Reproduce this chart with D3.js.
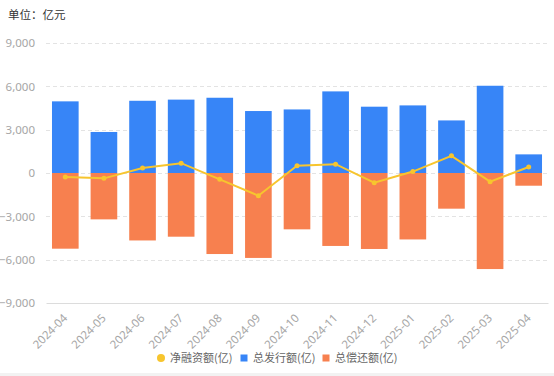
<!DOCTYPE html>
<html>
<head>
<meta charset="utf-8">
<script src="https://cdn.jsdelivr.net/npm/d3@7"></script>
<style>
  body { margin: 0; background: #fff; }
  svg { display: block; font-family: "Noto Sans CJK SC", "Noto Sans", sans-serif; }
</style>
</head>
<body>
<svg id="chart" width="554" height="376"></svg>
<script>
// data (亿元)
var months = ["2024-04","2024-05","2024-06","2024-07","2024-08","2024-09",
              "2024-10","2024-11","2024-12","2025-01","2025-02","2025-03","2025-04"];
var issued = [4960, 2840, 5000, 5080, 5210, 4290, 4400, 5650, 4590, 4680, 3640, 6040, 1290];
var repaid = [-5240, -3210, -4670, -4410, -5610, -5880, -3900, -5050, -5260, -4600, -2470, -6650, -880];
var net    = [-270, -370, 340, 680, -440, -1570, 510, 610, -672, 100, 1190, -602, 412];
var yTicks = [-9000, -6000, -3000, 0, 3000, 6000, 9000];

var legendNames = ["净融资额(亿)", "总发行额(亿)", "总偿还额(亿)"];
var colNet = "#f7c52e", colIssue = "#3785f7", colRepay = "#f7804f";

var svg = d3.select("#chart");
var margin = {top: 43, right: 6, bottom: 73, left: 46};
var W = 554, H = 376;

// light strip at the very bottom
svg.append("rect")
    .attr("x", 0).attr("y", 373).attr("width", W).attr("height", 3)
    .attr("fill", "#f2f2f2");

var x = d3.scaleBand()
    .domain(months)
    .range([margin.left, W - margin.right])
    .paddingInner(0.31)
    .paddingOuter(0.155);

var y = d3.scaleLinear()
    .domain([-9000, 9000])
    .range([H - margin.bottom, margin.top]);

// unit label
svg.append("text")
    .attr("x", 8).attr("y", 19)
    .attr("font-size", 11.5)
    .attr("fill", "#333")
    .text("单位：亿元");

// grid
svg.append("g").selectAll("line")
    .data(yTicks.filter(function(d) { return d !== -9000; }))
    .enter().append("line")
    .attr("x1", margin.left).attr("x2", W - margin.right)
    .attr("y1", function(d) { return Math.round(y(d)) + 0.5; })
    .attr("y2", function(d) { return Math.round(y(d)) + 0.5; })
    .attr("stroke", "#e3e3e3")
    .attr("stroke-dasharray", "4,3");

// y axis labels
var yAxis = svg.append("g")
    .attr("transform", "translate(" + (margin.left - 8) + ",0)")
    .call(d3.axisLeft(y).tickValues(yTicks).tickSize(0).tickFormat(d3.format(",")));
yAxis.select(".domain").remove();
yAxis.selectAll("text")
    .attr("fill", "#a6a6a6")
    .attr("font-size", 11.5)
    .attr("font-family", "\"Noto Sans\", sans-serif");

// bars
svg.append("g").selectAll("rect")
    .data(issued)
    .enter().append("rect")
    .attr("x", function(d, i) { return x(months[i]); })
    .attr("width", x.bandwidth())
    .attr("y", function(d) { return y(d); })
    .attr("height", function(d) { return y(0) - y(d); })
    .attr("fill", colIssue);

svg.append("g").selectAll("rect")
    .data(repaid)
    .enter().append("rect")
    .attr("x", function(d, i) { return x(months[i]); })
    .attr("width", x.bandwidth())
    .attr("y", y(0))
    .attr("height", function(d) { return y(d) - y(0); })
    .attr("fill", colRepay);

// x axis
var xAxis = svg.append("g")
    .attr("transform", "translate(0," + (H - margin.bottom) + ")")
    .call(d3.axisBottom(x).tickSize(0).tickPadding(0));
xAxis.select(".domain")
    .attr("stroke", "#dcdcdc");
xAxis.selectAll("text")
    .attr("fill", "#a6a6a6")
    .attr("font-size", 11.5)
    .attr("font-family", "\"Noto Sans\", sans-serif")
    .attr("text-anchor", "end")
    .attr("dy", "0.35em")
    .attr("transform", "translate(0,13) rotate(-45)");

// net line
var line = d3.line()
    .x(function(d, i) { return x(months[i]) + x.bandwidth() / 2; })
    .y(function(d) { return y(d); });

svg.append("path")
    .datum(net)
    .attr("d", line)
    .attr("fill", "none")
    .attr("stroke", colNet)
    .attr("stroke-width", 2);

svg.append("g").selectAll("circle")
    .data(net)
    .enter().append("circle")
    .attr("cx", function(d, i) { return x(months[i]) + x.bandwidth() / 2; })
    .attr("cy", function(d) { return y(d); })
    .attr("r", 2.5)
    .attr("fill", colNet);

// legend
var lg = svg.append("g").attr("font-size", 11).attr("fill", "#666");
var lgX = [161, 244, 326];
var lgCol = [colNet, colIssue, colRepay];
legendNames.forEach(function(name, i) {
    if (i === 0) {
        lg.append("circle").attr("cx", lgX[i]).attr("cy", 358).attr("r", 4).attr("fill", lgCol[i]);
    } else {
        lg.append("rect").attr("x", lgX[i] - 3.5).attr("y", 354.5).attr("width", 7).attr("height", 7).attr("fill", lgCol[i]);
    }
    lg.append("text")
        .attr("x", lgX[i] + 9).attr("y", 358)
        .attr("dy", "0.35em")
        .text(name);
});
</script>
</body>
</html>
